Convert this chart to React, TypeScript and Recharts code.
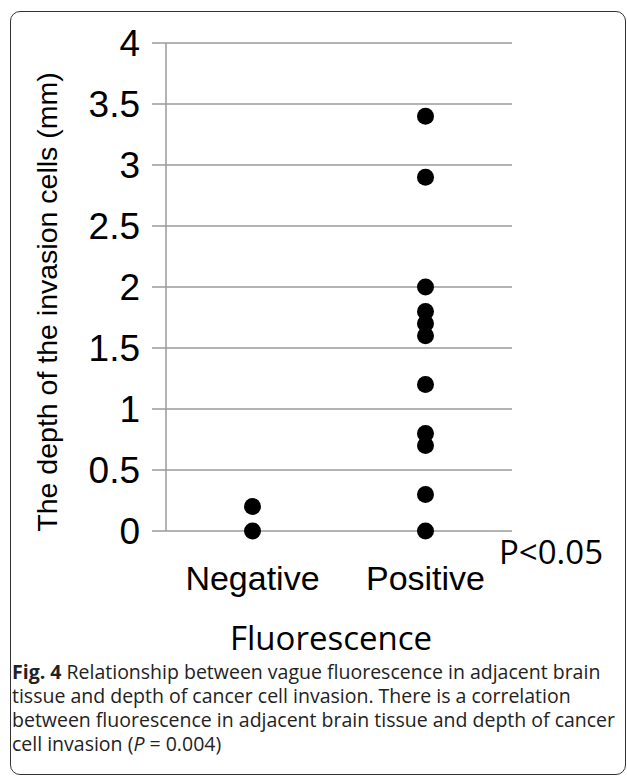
import React from 'react';
import { ScatterChart, Scatter, XAxis, YAxis, CartesianGrid, Label } from 'recharts';

const CATEGORIES = ['Negative', 'Positive'];
const NEGATIVE_DEPTHS = [0, 0.2];
const POSITIVE_DEPTHS = [0, 0.3, 0.7, 0.8, 1.2, 1.6, 1.7, 1.8, 2.0, 2.9, 3.4];
const Y_TICKS = [0, 0.5, 1, 1.5, 2, 2.5, 3, 3.5, 4];

const negativeData = NEGATIVE_DEPTHS.map(v => ({ x: 1, y: v }));
const positiveData = POSITIVE_DEPTHS.map(v => ({ x: 2, y: v }));

const GRID = '#9a9a9a';
const ARIAL = '"Liberation Sans", Arial, sans-serif';
const SANS = '"Open Sans", "Noto Sans", sans-serif';

const Dot = (props: any) => <circle cx={props.cx} cy={props.cy} r={8.5} fill="#000" />;

const CategoryTick = (props: any) => {
  const { x, payload } = props;
  return (
    <text x={x} y={590} textAnchor="middle" fontFamily={ARIAL} fontSize={34} fill="#000">
      {CATEGORIES[payload.value - 1]}
    </text>
  );
};

const App: React.FC = () => {
  return (
    <div style={{ position: 'absolute', left: 0, top: 0, width: 627, height: 776, background: '#fff' }}>
      <div
        style={{
          position: 'absolute',
          left: 10,
          top: 11,
          width: 614,
          height: 762,
          border: '1.5px solid #333',
          borderRadius: 10,
        }}
      />
      <ScatterChart width={627} height={776} margin={{ top: 43, right: 115, bottom: 0, left: 0 }}>
        <CartesianGrid horizontal={true} vertical={false} stroke={GRID} strokeWidth={1.5} />
        <XAxis
          type="number"
          dataKey="x"
          domain={[0.5, 2.5]}
          ticks={[1, 2]}
          height={245}
          axisLine={false}
          tickLine={false}
          tick={<CategoryTick />}
        >
          <Label
            content={() => (
              <text x={331} y={650} textAnchor="middle" fontFamily={SANS} fontSize={33} fill="#000">
                Fluorescence
              </text>
            )}
          />
          <Label
            content={() => (
              <text x={499} y={564} textAnchor="start" fontFamily={SANS} fontSize={33} fill="#000">
                P&lt;0.05
              </text>
            )}
          />
        </XAxis>
        <YAxis
          type="number"
          dataKey="y"
          domain={[0, 4]}
          ticks={Y_TICKS}
          width={166}
          tickSize={14}
          tickMargin={12}
          stroke={GRID}
          strokeWidth={1.5}
          tick={{ fill: '#000', fontSize: 37, fontFamily: ARIAL }}
        >
          <Label
            content={() => (
              <text
                x={57}
                y={302}
                transform="rotate(-90 57 302)"
                textAnchor="middle"
                fontFamily={ARIAL}
                fontSize={28.5}
                fill="#000"
              >
                The depth of the invasion cells (mm)
              </text>
            )}
          />
        </YAxis>
        <Scatter data={negativeData} shape={<Dot />} isAnimationActive={false} />
        <Scatter data={positiveData} shape={<Dot />} isAnimationActive={false} />
      </ScatterChart>
      <div
        style={{
          position: 'absolute',
          left: 12,
          top: 660,
          fontFamily: SANS,
          fontSize: 19.5,
          lineHeight: '24px',
          color: '#222',
          whiteSpace: 'nowrap',
        }}
      >
        <b>Fig. 4</b> Relationship between vague fluorescence in adjacent brain
        <br />
        tissue and depth of cancer cell invasion. There is a correlation
        <br />
        between fluorescence in adjacent brain tissue and depth of cancer
        <br />
        cell invasion (<i>P</i> = 0.004)
      </div>
    </div>
  );
};

export default App;
